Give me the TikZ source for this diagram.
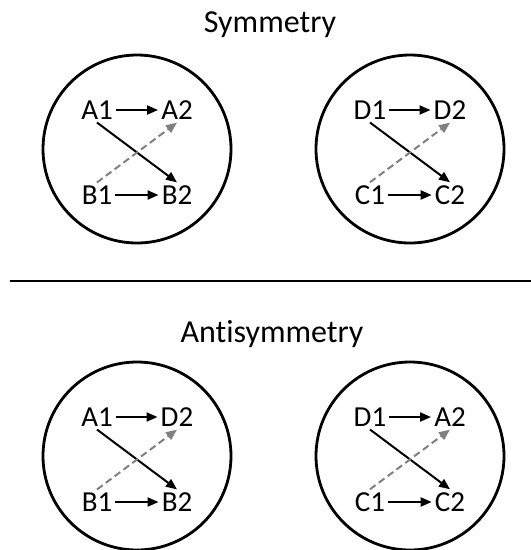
\documentclass[tikz,border=0pt]{standalone}
\usepackage{fontspec}
\setmainfont{Carlito}[Ligatures=NoCommon]
\usetikzlibrary{arrows.meta}
\tikzset{
  lbl/.style={font=\fontsize{29}{31}\selectfont, inner sep=3pt},
  title/.style={font=\fontsize{32}{36}\selectfont},
  ring/.style={line width=2.8pt},
  solidarr/.style={line width=2pt, -{Triangle[length=11pt,width=9pt]}},
  dasharr/.style={line width=2pt, gray, dash pattern=on 7pt off 4pt, -{Triangle[length=11pt,width=9pt]}},
}
\begin{document}
\begin{tikzpicture}[x=1pt, y=-1pt]
  \useasboundingbox (0,0) rectangle (531,550);
  % titles and separator
  \node[title] (sym) at (270,25) {Symmetry};
  \node[title] (anti) at (272,334) {Antisymmetry};
  \draw[line width=2.2pt] (10,281) -- (531,281);
  % one circle per panel
  \foreach \p/\cx/\cy/\ua/\ub/\la/\lb in {syml/137/149/A1/A2/B1/B2, symr/410/149/D1/D2/C1/C2, antil/137/456/A1/D2/B1/B2, antir/410/456/D1/A2/C1/C2} {
    \draw[ring] (\cx,\cy) circle[radius=94pt];
    \node[lbl] (\p-up1) at ({\cx-40},{\cy-39}) {\ua};
    \node[lbl] (\p-up2) at ({\cx+40},{\cy-39}) {\ub};
    \node[lbl] (\p-lo1) at ({\cx-40},{\cy+46}) {\la};
    \node[lbl] (\p-lo2) at ({\cx+40},{\cy+46}) {\lb};
    \draw[solidarr] (\p-up1) -- (\p-up2);
    \draw[solidarr] (\p-lo1) -- (\p-lo2);
    \draw[solidarr] (\p-up1.south) -- (\p-lo2.north);
    \draw[dasharr] (\p-lo1.north) -- (\p-up2.south);
  }
\end{tikzpicture}
\end{document}
